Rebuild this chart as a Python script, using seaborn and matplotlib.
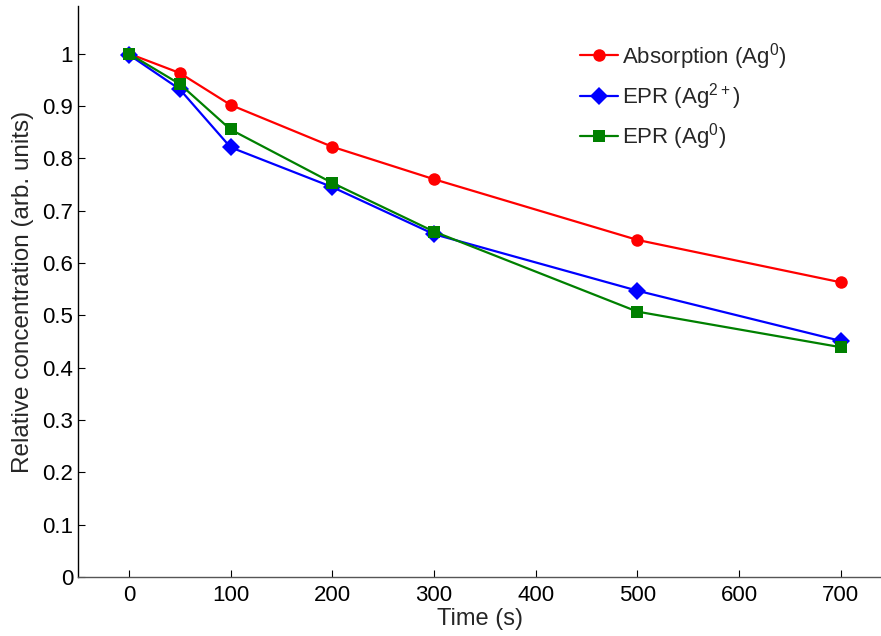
import numpy as np
import pandas as pd
import matplotlib
matplotlib.use("Agg")
import matplotlib.pyplot as plt
import seaborn as sns

time_s = [0, 50, 100, 200, 300, 500, 700]
absorption_ag0 = [1.0, 0.963, 0.902, 0.822, 0.760, 0.644, 0.563]
epr_ag2 = [0.998, 0.932, 0.821, 0.745, 0.655, 0.547, 0.451]
epr_ag0 = [1.0, 0.942, 0.855, 0.753, 0.660, 0.507, 0.439]
series_names = ["Absorption (Ag$^{0}$)", "EPR (Ag$^{2+}$)", "EPR (Ag$^{0}$)"]

sns.set_style("white")
plt.rcParams['font.family'] = ['Liberation Sans', 'DejaVu Sans']
plt.rcParams['mathtext.fontset'] = 'custom'
plt.rcParams['mathtext.rm'] = 'Liberation Sans'
plt.rcParams['mathtext.it'] = 'Liberation Sans'

df = pd.DataFrame({
    "t": time_s * 3,
    "v": absorption_ag0 + epr_ag2 + epr_ag0,
    "s": [series_names[0]] * 7 + [series_names[1]] * 7 + [series_names[2]] * 7,
})

fig = plt.figure(figsize=(8.81, 6.36), dpi=100)
ax = fig.add_axes([0.0885, 0.0928, 0.912, 0.897])

colors = {series_names[0]: "#ff0000", series_names[1]: "#0000ff", series_names[2]: "#008000"}
markers = {series_names[0]: "o", series_names[1]: "D", series_names[2]: "s"}
sns.lineplot(data=df, x="t", y="v", hue="s", style="s", palette=colors,
             markers=markers, dashes=False, linewidth=1.6, markersize=9,
             markeredgewidth=0, ax=ax)

ax.set_xlim(-50, 740)
ax.set_ylim(0, 1.09)
ax.set_xticks([0, 100, 200, 300, 400, 500, 600, 700])
ax.set_yticks([0, 0.1, 0.2, 0.3, 0.4, 0.5, 0.6, 0.7, 0.8, 0.9, 1.0])
ax.set_yticklabels(["0", "0.1", "0.2", "0.3", "0.4", "0.5", "0.6", "0.7", "0.8", "0.9", "1"])
ax.set_xlabel("Time (s)", fontsize=17, labelpad=1)
ax.set_ylabel("Relative concentration (arb. units)", fontsize=17.5, labelpad=6)
ax.tick_params(direction="in", length=5, width=0.8, labelsize=16, colors="black",
               bottom=True, left=True)
ax.tick_params(axis="x", pad=6)
for sp in ["top", "right"]:
    ax.spines[sp].set_visible(False)
ax.spines["left"].set_color("black")
ax.spines["bottom"].set_color("#555555")
ax.spines["left"].set_linewidth(1.0)
ax.spines["bottom"].set_linewidth(1.0)

leg = ax.legend(loc="upper left", bbox_to_anchor=(0.6, 0.975), frameon=False,
                fontsize=16, handlelength=1.7, handletextpad=0.2, labelspacing=0.42,
                title=None)

fig.savefig("out.png", dpi=100)
